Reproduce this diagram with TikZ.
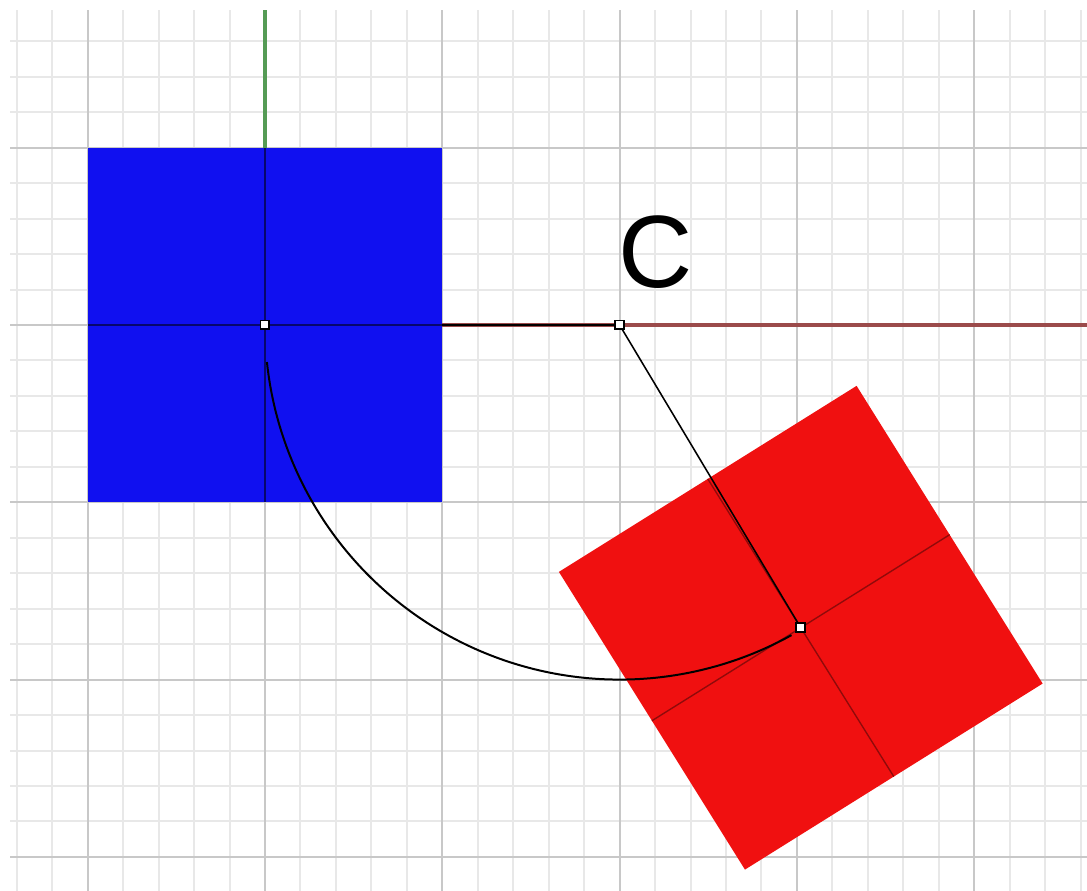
\documentclass[tikz,border=0pt]{standalone}
\usepackage{fontspec}
\setmainfont{Liberation Sans}
\usepackage{xcolor}
\usepackage{tikz}
\usetikzlibrary{calc}

\definecolor{boxblue}{RGB}{16,16,240}
\definecolor{boxred}{RGB}{240,16,16}
\definecolor{gridminor}{RGB}{232,232,232}
\definecolor{gridmajor}{RGB}{200,200,200}
\definecolor{xaxis}{RGB}{155,75,75}
\definecolor{yaxis}{RGB}{85,155,85}

\begin{document}
\begin{tikzpicture}[x=1cm,y=1cm]
  \tikzstyle{pick}=[draw=black,fill=white,line width=0.3pt,minimum size=0.5mm,inner sep=0pt]
  \tikzstyle{guide}=[draw=black,line width=0.25pt]
  \useasboundingbox (-1.4946,-3.1923) rectangle (4.6362,1.8331);
  % grid
  \draw[gridminor,line width=0.32pt] (-1.438,-3.1923) grid[step=0.2] (4.6362,1.777);
  \draw[gridmajor,line width=0.35pt] (-1.438,-3.1923) grid[step=1] (4.6362,1.777);
  % points
  \coordinate (origin) at (0,0);
  \coordinate (pivot) at (2,0);
  \coordinate (target) at ($(pivot)+(-59.1:1.99)$);
  \coordinate (arcstart) at ($(pivot)+(186:2)$);
  \coordinate (xend) at (4.6362,0);
  \coordinate (yend) at (0,1.777);
  % axes
  \draw[xaxis,line width=0.5pt] (origin) -- (xend);
  \draw[yaxis,line width=0.5pt] (origin) -- (yend);
  \draw[guide] (origin) -- (pivot);
  % blue square
  \fill[boxblue] (-1,-1) rectangle (1,1);
  \draw[boxblue!45!black,line width=0.25pt] (-1,0) -- (1,0) (0,-1) -- (0,1);
  % red square
  \begin{scope}[shift={(target)},rotate=-58]
    \fill[boxred] (-0.99,-0.99) rectangle (0.99,0.99);
    \draw[boxred!60!black,line width=0.22pt] (-0.99,0) -- (0.99,0) (0,-0.99) -- (0,0.99);
  \end{scope}
  \draw[guide] (pivot) -- (target);
  \draw[black,line width=0.32pt] (arcstart) arc[start angle=186,end angle=299,radius=2];
  % markers
  \node[pick] (o) at (origin) {};
  \node[pick] (c) at (pivot) {};
  \node[pick] (t) at (target) {};
  \node[font=\fontsize{16.5}{18}\selectfont,inner sep=0pt] (clabel) at (2.205,0.412) {C};
\end{tikzpicture}
\end{document}
